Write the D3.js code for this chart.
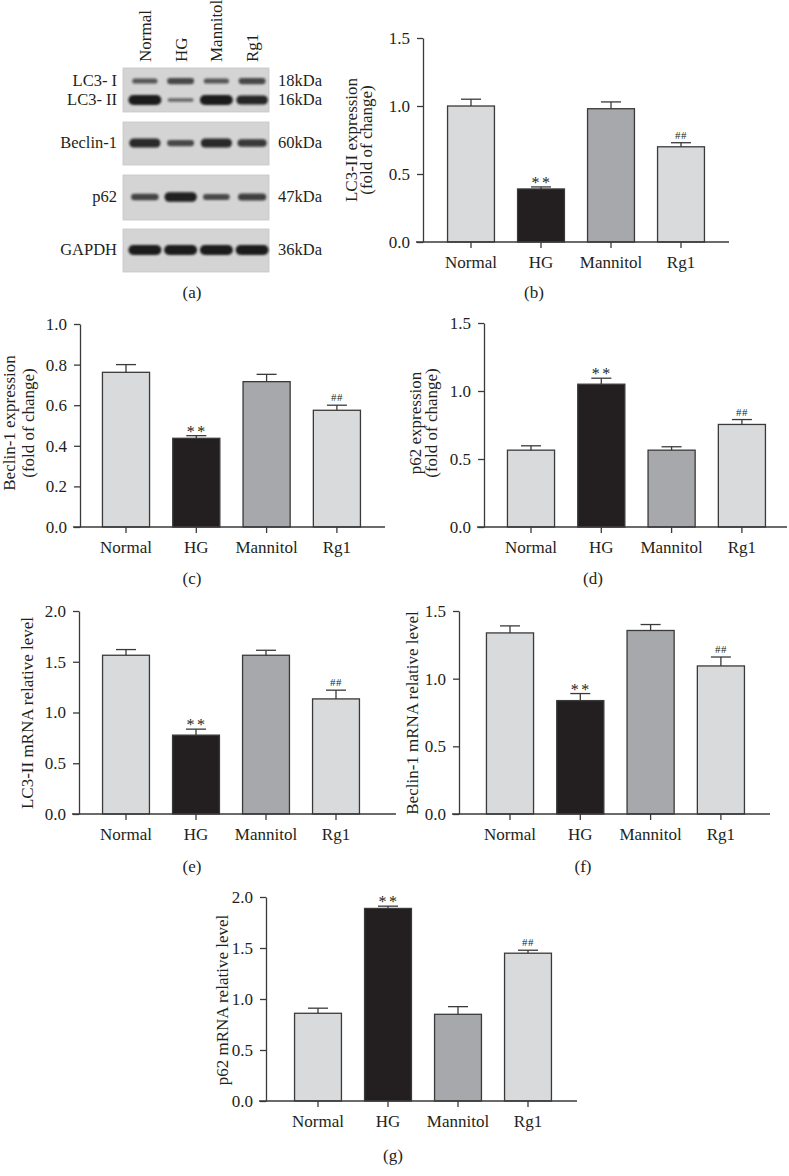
<!DOCTYPE html>
<html>
<head>
<meta charset="utf-8">
<script src="https://cdn.jsdelivr.net/npm/d3@7"></script>
<style>
  body { margin: 0; background: #fff; }
  svg { display: block; font-family: "Liberation Serif", "DejaVu Serif", serif; }
</style>
</head>
<body>
<script>
// ---------------- DATA ----------------
const categories = ["Normal", "HG", "Mannitol", "Rg1"];

// (b) LC3-II protein expression (fold of change)
const lc3Protein = [1.00, 0.39, 0.98, 0.70];
const lc3ProteinErr = [0.05, 0.015, 0.05, 0.03];
// (c) Beclin-1 protein expression
const beclinProtein = [0.762, 0.437, 0.716, 0.575];
const beclinProteinErr = [0.038, 0.013, 0.036, 0.025];
// (d) p62 protein expression
const p62Protein = [0.565, 1.05, 0.565, 0.754];
const p62ProteinErr = [0.032, 0.044, 0.025, 0.036];
// (e) LC3-II mRNA relative level
const lc3mRNA = [1.564, 0.777, 1.564, 1.134];
const lc3mRNAErr = [0.056, 0.059, 0.049, 0.086];
// (f) Beclin-1 mRNA relative level
const beclinmRNA = [1.338, 0.838, 1.356, 1.094];
const beclinmRNAErr = [0.052, 0.052, 0.044, 0.066];
// (g) p62 mRNA relative level
const p62mRNA = [0.86, 1.888, 0.85, 1.449];
const p62mRNAErr = [0.05, 0.022, 0.075, 0.029];

const sigMarks = ["", "**", "", "##"];

// y tick values
const ticks15 = [0, 0.5, 1.0, 1.5];
const ticks10 = [0, 0.2, 0.4, 0.6, 0.8, 1.0];
const ticks20 = [0, 0.5, 1.0, 1.5, 2.0];

// Western blot (a)
const blotRows = ["LC3- I", "LC3- II", "Beclin-1", "p62", "GAPDH"];
const blotKDa = ["18kDa", "16kDa", "60kDa", "47kDa", "36kDa"];
const bandLC3I = [0.35, 0.5, 0.35, 0.5];
const bandLC3II = [1.0, 0.12, 1.0, 0.88];
const bandBeclin = [0.85, 0.5, 0.85, 0.68];
const bandP62 = [0.55, 0.95, 0.48, 0.6];
const bandGAPDH = [1.0, 1.0, 1.0, 1.0];

// ---------------- STYLES ----------------
const fills = ["#d9dadc", "#231f20", "#a7a8ab", "#d9dadc"];
const axisColor = "#3a3a3a";
const textColor = "#231f20";
const FS = 17;
const FSB = 16.5;

const svg = d3.select("body").append("svg")
  .attr("width", 789).attr("height", 1176);
svg.append("rect").attr("width", 789).attr("height", 1176).attr("fill", "#fff");

const defs = svg.append("defs");
defs.append("filter").attr("id", "blur").attr("x", "-30%").attr("y", "-100%")
  .attr("width", "160%").attr("height", "300%")
  .append("feGaussianBlur").attr("stdDeviation", 1.1);

// ---------------- BAR PANEL ----------------
function barPanel(cfg, values, errs, ticks) {
  const g = svg.append("g");
  const x = d3.scaleBand().domain(categories)
    .range([cfg.cx0 - cfg.step / 2, cfg.cx0 - cfg.step / 2 + 4 * cfg.step])
    .paddingInner(0.33).paddingOuter(0.165);
  const y = d3.scaleLinear().domain([0, cfg.max]).range([cfg.y0, cfg.yTop]);

  // bars
  g.selectAll("rect.bar").data(values).join("rect")
    .attr("x", (d, i) => x(categories[i]))
    .attr("y", d => y(d))
    .attr("width", x.bandwidth())
    .attr("height", d => y(0) - y(d))
    .attr("fill", (d, i) => fills[i])
    .attr("stroke", axisColor).attr("stroke-width", 1.3);

  // error bars
  const capW = 20;
  values.forEach((v, i) => {
    const cx = x(categories[i]) + x.bandwidth() / 2;
    const top = y(v + errs[i]);
    g.append("line").attr("x1", cx).attr("x2", cx).attr("y1", y(v)).attr("y2", top)
      .attr("stroke", axisColor).attr("stroke-width", 1.3);
    g.append("line").attr("x1", cx - capW / 2).attr("x2", cx + capW / 2).attr("y1", top).attr("y2", top)
      .attr("stroke", axisColor).attr("stroke-width", 1.3);
    const m = sigMarks[i];
    if (m === "**") {
      g.append("text").attr("x", cx + 1).attr("y", top + 1).attr("text-anchor", "middle")
        .attr("font-size", 16).attr("letter-spacing", 2.5).attr("fill", textColor).text(m);
    } else if (m === "##") {
      g.append("text").attr("x", cx).attr("y", top - 4).attr("text-anchor", "middle")
        .attr("font-size", 11).attr("letter-spacing", 0.5).attr("fill", textColor).text(m);
    }
  });

  // y axis
  const ya = g.append("g").attr("transform", `translate(${cfg.ax},0)`)
    .call(d3.axisLeft(y).tickValues(ticks).tickFormat(d3.format(".1f")).tickSize(6).tickSizeOuter(0).tickPadding(7));
  ya.select(".domain").attr("stroke", axisColor).attr("stroke-width", 1.3);
  ya.selectAll(".tick line").attr("stroke", axisColor).attr("stroke-width", 1.3);
  ya.selectAll(".tick text").attr("font-size", FS).attr("font-family", "Liberation Serif").attr("fill", textColor);

  // x axis
  const xa = g.append("g").attr("transform", `translate(0,${cfg.y0})`)
    .call(d3.axisBottom(x).tickSize(6).tickSizeOuter(0).tickPadding(8));
  xa.select(".domain").remove();
  xa.selectAll(".tick line").attr("stroke", axisColor).attr("stroke-width", 1.3);
  xa.selectAll(".tick text").attr("font-size", FS).attr("font-family", "Liberation Serif").attr("fill", textColor);
  g.append("line").attr("x1", cfg.ax - 7).attr("x2", cfg.xEnd).attr("y1", cfg.y0).attr("y2", cfg.y0)
    .attr("stroke", axisColor).attr("stroke-width", 1.3);

  // y label
  cfg.labels.forEach((lab, k) => {
    g.append("text").attr("transform", `translate(${cfg.labelX[k]},${cfg.labelY}) rotate(-90)`)
      .attr("text-anchor", "middle").attr("font-size", FS).attr("fill", textColor).text(lab);
  });

  // caption
  g.append("text").attr("x", cfg.capX).attr("y", cfg.capY).attr("text-anchor", "middle")
    .attr("font-size", FS).attr("fill", textColor).text(cfg.caption);
}

barPanel({cx0: 471, step: 70, max: 1.5, y0: 242, yTop: 38, ax: 423, xEnd: 729,
  labels: ["LC3-II expression", "(fold of change)"], labelX: [357, 372], labelY: 140,
  caption: "(b)", capX: 534, capY: 298}, lc3Protein, lc3ProteinErr, ticks15);

barPanel({cx0: 126, step: 70.3, max: 1.0, y0: 527, yTop: 324, ax: 80, xEnd: 385,
  labels: ["Beclin-1 expression", "(fold of change)"], labelX: [15, 34], labelY: 423,
  caption: "(c)", capX: 192, capY: 584}, beclinProtein, beclinProteinErr, ticks10);

barPanel({cx0: 531, step: 70.3, max: 1.5, y0: 527, yTop: 323, ax: 484, xEnd: 787,
  labels: ["p62 expression", "(fold of change)"], labelX: [421, 437], labelY: 423,
  caption: "(d)", capX: 593, capY: 584}, p62Protein, p62ProteinErr, ticks15);

barPanel({cx0: 126, step: 70, max: 2.0, y0: 814, yTop: 611, ax: 79, xEnd: 396,
  labels: ["LC3-II mRNA relative level"], labelX: [33], labelY: 713,
  caption: "(e)", capX: 192, capY: 872}, lc3mRNA, lc3mRNAErr, ticks20);

barPanel({cx0: 510, step: 70.3, max: 1.5, y0: 814, yTop: 611, ax: 459, xEnd: 770,
  labels: ["Beclin-1 mRNA relative level"], labelX: [418], labelY: 713,
  caption: "(f)", capX: 583, capY: 872}, beclinmRNA, beclinmRNAErr, ticks15);

barPanel({cx0: 318, step: 70, max: 2.0, y0: 1101, yTop: 897, ax: 266, xEnd: 577,
  labels: ["p62 mRNA relative level"], labelX: [228], labelY: 1000,
  caption: "(g)", capX: 393, capY: 1161}, p62mRNA, p62mRNAErr, ticks20);

// ---------------- WESTERN BLOT (a) ----------------
(function blot() {
  const g = svg.append("g");
  const lane = d3.scaleBand().domain(categories).range([127, 270]);
  const boxes = [[68, 112], [122, 165], [175, 220], [229, 272]];
  const rowY = d3.scaleOrdinal().domain(blotRows).range([81, 100, 143, 197, 250]);
  const bandData = [bandLC3I, bandLC3II, bandBeclin, bandP62, bandGAPDH];
  const hScale = d3.scaleLinear().domain([0, 1]).range([2.5, 10]);
  const wScale = d3.scaleLinear().domain([0, 1]).range([21, 33]);
  const oScale = d3.scaleLinear().domain([0, 1]).range([0.5, 0.97]);

  boxes.forEach(b => {
    g.append("rect").attr("x", 123).attr("y", b[0]).attr("width", 146).attr("height", b[1] - b[0])
      .attr("fill", "#d4d4d4").attr("stroke", "#c6c6c6").attr("stroke-width", 0.8);
  });

  blotRows.forEach((row, r) => {
    bandData[r].forEach((v, i) => {
      const cx = lane(categories[i]) + lane.bandwidth() / 2;
      const w = r === 1 && v < 0.3 ? 26 : wScale(v);
      g.append("rect")
        .attr("x", cx - w / 2).attr("y", rowY(row) - hScale(v) / 2)
        .attr("width", w).attr("height", hScale(v))
        .attr("rx", hScale(v) / 2)
        .attr("fill", "#161616").attr("opacity", oScale(v))
        .attr("filter", "url(#blur)");
    });
    g.append("text").attr("x", 117).attr("y", rowY(row) + 5).attr("text-anchor", "end")
      .attr("font-size", FSB).attr("fill", textColor).text(row);
    g.append("text").attr("x", 278).attr("y", rowY(row) + 5)
      .attr("font-size", FSB).attr("fill", textColor).text(blotKDa[r]);
  });

  categories.forEach(c => {
    const cx = lane(c) + lane.bandwidth() / 2;
    g.append("text").attr("transform", `translate(${cx + 6},62) rotate(-90)`)
      .attr("font-size", 17).attr("fill", textColor).text(c);
  });

  g.append("text").attr("x", 192).attr("y", 298).attr("text-anchor", "middle")
    .attr("font-size", FS).attr("fill", textColor).text("(a)");
})();
</script>
</body>
</html>
